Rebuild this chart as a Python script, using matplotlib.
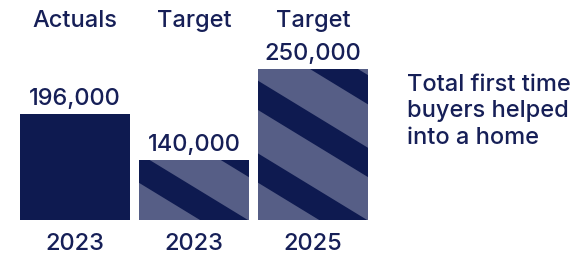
import matplotlib
matplotlib.use('Agg')
import matplotlib.pyplot as plt
from matplotlib.patches import Polygon
from matplotlib.transforms import IdentityTransform

# ---- data ----
headers = ['Actuals', 'Target', 'Target']
years = ['2023', '2023', '2025']
values = [196000, 140000, 250000]
striped = [False, True, True]
caption_lines = ['Total first time', 'buyers helped', 'into a home']

# ---- style ----
DARK = '#0E1A50'
LIGHT = '#565E86'
TEXT = '#161F57'
FONT = ['Inter', 'DejaVu Sans']
FS = 17
FW = 'medium'

W, H = 588, 254
fig = plt.figure(figsize=(W / 100, H / 100), dpi=100)
fig.patch.set_facecolor('white')
ax = fig.add_axes([20 / W, 34 / H, 348 / W, 220 / H])
bw = 110 / 119
xs = list(range(len(values)))
ax.set_xlim(-bw / 2, xs[-1] + bw / 2)
ax.set_ylim(68000, 334000)
ax.axis('off')

bars = ax.bar(xs, [v - 68000 for v in values], bottom=68000, width=bw,
              color=[LIGHT if s else DARK for s in striped], linewidth=0)

txt = dict(fontsize=FS, color=TEXT, family=FONT, fontweight=FW)

# value labels
for x, v in zip(xs, values):
    ax.annotate(f'{v:,}', (x, v), xytext=(0, 9), textcoords='offset pixels',
                ha='center', va='baseline', **txt)

# headers and years
tr = ax.get_xaxis_transform()
for x, h, y in zip(xs, headers, years):
    ax.text(x, (254 - 26.7 - 34) / 220, h, transform=tr, ha='center', va='baseline', **txt)
    ax.text(x, (254 - 250.5 - 34) / 220, y, transform=tr, ha='center', va='baseline', **txt)

# caption
for i, line in enumerate(caption_lines):
    fig.text(407 / W, (254 - (91 + 26.3 * i)) / H, line, ha='left', va='baseline', **txt)

# diagonal stripes (pixel space), clipped to each striped bar
fig.canvas.draw()
slope, period, dark_h = 0.61, 72.7, 29.3
for bar, s in zip(bars, striped):
    if not s:
        continue
    bb = bar.get_window_extent()
    x0, x1 = bb.x0 - 5, bb.x1 + 5
    for k in range(-12, 12):
        c = 110 + period * k  # image coords (y down), lower edge of dark band at x=258
        def yimg(x, off):
            return c + off + slope * (x - 258)
        pts = [(x0, H - yimg(x0, -dark_h)), (x1, H - yimg(x1, -dark_h)),
               (x1, H - yimg(x1, 0)), (x0, H - yimg(x0, 0))]
        poly = Polygon(pts, closed=True, facecolor=DARK, edgecolor='none',
                       transform=IdentityTransform())
        poly.set_clip_path(bar)
        fig.add_artist(poly)

fig.savefig('out.png', dpi=100)
